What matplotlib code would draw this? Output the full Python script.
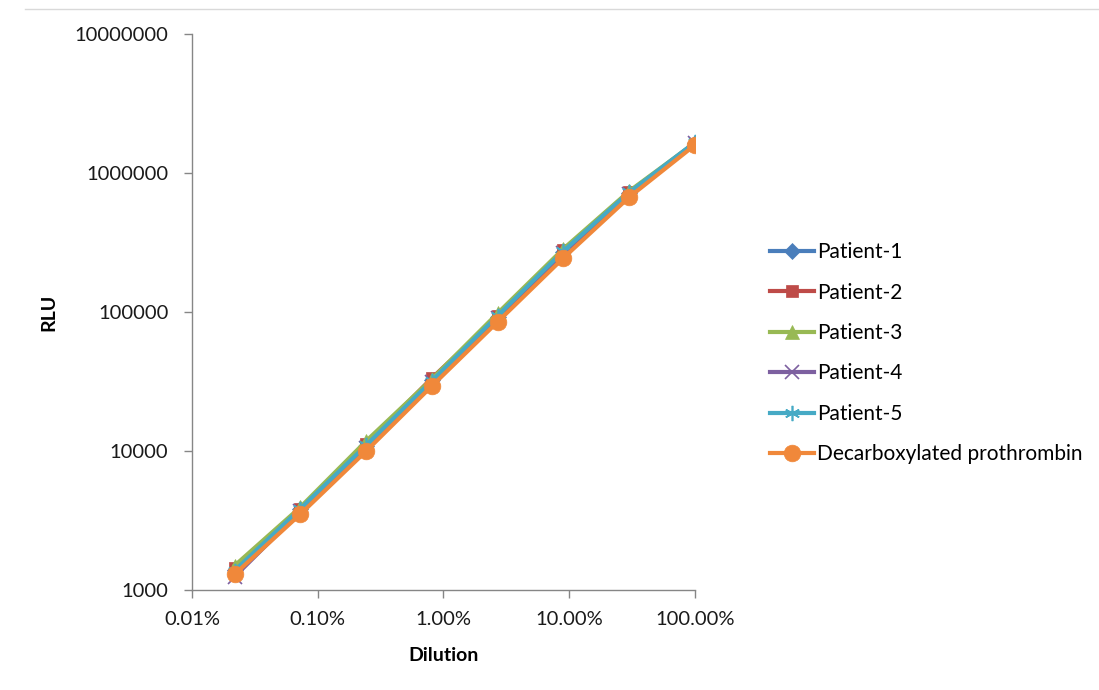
import matplotlib
matplotlib.use('Agg')
import matplotlib.pyplot as plt
from matplotlib.ticker import FixedLocator, FuncFormatter, NullLocator
from matplotlib.lines import Line2D

plt.rcParams['font.family'] = ['Lato', 'DejaVu Sans']

# dilution series (fraction), 1:0.3 steps
dilution = [1, 0.3, 0.09, 0.027, 0.0081, 0.00243, 0.000729, 0.0002187]

patient_1 = [1640000, 720000, 270000, 92000, 32500, 10900, 3800, 1400]
patient_2 = [1620000, 730000, 280000, 93000, 33500, 11200, 3850, 1450]
patient_3 = [1650000, 740000, 285000, 98000, 33000, 11800, 3950, 1500]
patient_4 = [1650000, 710000, 265000, 90000, 31500, 10500, 3700, 1250]
patient_5 = [1660000, 725000, 275000, 94000, 32000, 11000, 3850, 1380]
decarb = [1590000, 670000, 245000, 85000, 29400, 10000, 3520, 1300]

names = ['Patient-1', 'Patient-2', 'Patient-3', 'Patient-4', 'Patient-5',
         'Decarboxylated prothrombin']
series = [patient_1, patient_2, patient_3, patient_4, patient_5, decarb]
colors = ['#4A7EBB', '#BE4B48', '#98B954', '#7D60A0', '#46AAC5', '#F0883A']
markers = ['D', 's', '^', 'x', (6, 2, 0), 'o']
msizes = [8, 9, 10, 10, 11, 12]

fig = plt.figure(figsize=(10.99, 6.9), dpi=100)
ax = fig.add_axes([0.1747, 0.1449, 0.4576, 0.8058])

for name, ys, c, m, ms in zip(names, series, colors, markers, msizes):
    thin = m == 'x' or isinstance(m, tuple)
    ax.plot(dilution, ys, color=c, lw=3, marker=m, markersize=ms,
            markeredgecolor=c, markeredgewidth=1.2 if thin else 0.5,
            label=name)

ax.set_xscale('log')
ax.set_yscale('log')
ax.set_xlim(0.0001, 1)
ax.set_ylim(1000, 10000000)

ax.xaxis.set_major_locator(FixedLocator([0.0001, 0.001, 0.01, 0.1, 1]))
ax.xaxis.set_minor_locator(NullLocator())
ax.xaxis.set_major_formatter(FuncFormatter(lambda v, p: '%.2f%%' % (v * 100)))
ax.yaxis.set_major_locator(FixedLocator([1e3, 1e4, 1e5, 1e6, 1e7]))
ax.yaxis.set_minor_locator(NullLocator())
ax.yaxis.set_major_formatter(FuncFormatter(lambda v, p: '%d' % v))

for s in ['top', 'right']:
    ax.spines[s].set_visible(False)
for s in ['left', 'bottom']:
    ax.spines[s].set_color('#868686')
    ax.spines[s].set_linewidth(1)
ax.tick_params(axis='both', colors='#868686', length=6, width=1, labelsize=14.5,
               labelcolor='#1a1a1a')
ax.tick_params(axis='x', pad=9)
ax.tick_params(axis='y', pad=11)

ax.set_xlabel('Dilution', fontsize=14, fontweight='bold', labelpad=14)
ax.set_ylabel('RLU', fontsize=14, fontweight='bold', labelpad=12)

leg = ax.legend(loc='center left', bbox_to_anchor=(0.684, 0.488), bbox_transform=fig.transFigure,
                frameon=False, fontsize=15, handlelength=2.1, handletextpad=0.15,
                labelspacing=0.98)

fig.add_artist(Line2D([0.023, 1], [0.987, 0.987], color='#D9D9D9', lw=1))

fig.savefig('out.png', dpi=100)
